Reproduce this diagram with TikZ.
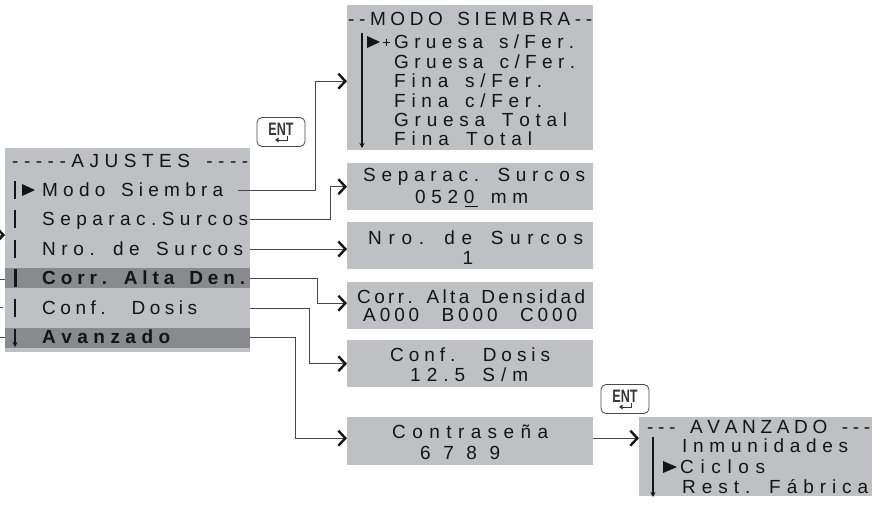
\documentclass[tikz,border=0pt]{standalone}
\usepackage{fontspec}
\usetikzlibrary{calc,arrows.meta,positioning}
\newfontfamily\lcdfont{Liberation Sans}
\newfontfamily\keyfont{Liberation Sans}

% spread the characters of #2 evenly over the width #1 (_ = extra space)
\ExplSyntaxOn
\NewDocumentCommand \spread { m m }
  {
    \hbox_to_wd:nn {#1}
      {
        \bool_set_true:N \l_tmpa_bool
        \str_map_inline:nn {#2}
          {
            \bool_if:NTF \l_tmpa_bool { \bool_set_false:N \l_tmpa_bool } { \hfil }
            \str_if_eq:nnTF {##1} {_} { \skip_horizontal:n { \fontdimen 2 \font } } {##1}
          }
      }
  }
\ExplSyntaxOff

\definecolor{lcdgray}{RGB}{191,192,196}
\definecolor{lcddark}{RGB}{137,138,141}
\definecolor{ink}{RGB}{20,20,20}
\definecolor{wiregray}{RGB}{72,72,72}

\tikzset{
  panel/.style={fill=lcdgray, anchor=north west, inner sep=0pt},
  lcd/.style={font=\lcdfont\fontsize{19}{21}\selectfont, text=ink, inner sep=0pt, text height=13.6pt, text depth=0pt},
  row/.style={lcd, anchor=west},
  bar/.style={draw=ink, line width=1.3pt},
  down/.style={bar, -{Stealth[length=5pt,width=5pt]}},
  wire/.style={draw=wiregray, line width=0.9pt, -{Straight Barb[length=7pt,width=15pt,line width=2.4pt,color=ink]}},
  stub/.style={draw=wiregray, line width=0.9pt},
  enterkey/.style={draw=wiregray, fill=white, rounded corners=5pt, line width=0.8pt, minimum width=48pt, minimum height=29pt, inner sep=0pt},
  keytext/.style={font=\keyfont\bfseries\fontsize{18}{18}\selectfont, text=ink!85, inner sep=0pt}
}

\begin{document}
\begin{tikzpicture}[x=1pt,y=-1pt]
  \useasboundingbox (0,0) rectangle (889,506);

  % panels
  \node[panel, minimum width=245pt, minimum height=204pt] (ajustes) at (5,148) {};
  \fill[lcddark] (5,268) rectangle (250,288);
  \fill[lcddark] (5,328) rectangle (250,348);
  \node[panel, minimum width=246pt, minimum height=145pt] (modo)  at (347,5)   {};
  \node[panel, minimum width=246pt, minimum height=47pt]  (sep)   at (347,163) {};
  \node[panel, minimum width=246pt, minimum height=47pt]  (nro)   at (347,222) {};
  \node[panel, minimum width=246pt, minimum height=47pt]  (corr)  at (347,282) {};
  \node[panel, minimum width=246pt, minimum height=47pt]  (dosis) at (347,340) {};
  \node[panel, minimum width=246pt, minimum height=48pt]  (clave) at (347,417) {};
  \node[panel, minimum width=233pt, minimum height=79pt]  (avz)   at (639,417) {};

  % AJUSTES
  \node[row] (tAjustes) at (12,161) {\spread{236pt}{-----AJUSTES ----}};
  \node[row] (rModo) at (42,190) {\spread{181pt}{Modo Siembra}};
  \node[row] (rSep)  at (42,219) {\spread{206pt}{Separac.Surcos}};
  \node[row] (rNro)  at (42,249) {\spread{201pt}{Nro. de Surcos}};
  \node[row] (rCorr) at (42,278) {\bfseries\spread{203pt}{Corr. Alta Den.}};
  \node[row] (rConf) at (42,308) {\spread{155pt}{Conf._ Dosis}};
  \node[row] (rAvz)  at (42,337) {\bfseries\spread{128pt}{Avanzado}};
  \foreach \y in {190,219,249,308} \draw[bar] (15,\y-9) -- (15,\y+9);
  \draw[bar, line width=3pt] (15,269) -- (15,287);
  \draw[down] (15,329) -- (15,347);
  \fill[ink] (22,184) -- (35,190) -- (22,196) -- cycle;

  % MODO SIEMBRA
  \node[row] (tModo) at (348,19) {\spread{244pt}{--MODO SIEMBRA--}};
  \node[row] (m1) at (394,42)    {\spread{180pt}{Gruesa s/Fer.}};
  \node[row] (m2) at (394,61.4)  {\spread{181pt}{Gruesa c/Fer.}};
  \node[row] (m3) at (394,80.8)  {\spread{148pt}{Fina s/Fer.}};
  \node[row] (m4) at (394,100.2) {\spread{148pt}{Fina c/Fer.}};
  \node[row] (m5) at (394,119.6) {\spread{173pt}{Gruesa Total}};
  \node[row] (m6) at (394,139)   {\spread{138pt}{Fina Total}};
  \draw[bar] (362,33) -- (362,130);
  \draw[down] (362,130) -- (362,148);
  \fill[ink] (367,36) -- (380,42) -- (367,48) -- cycle;
  \draw[ink, line width=1pt] (383,42) -- (390,42) (386.5,38.5) -- (386.5,45.5);

  % value screens
  \node[row] (tSep)   at (363,175) {\spread{222pt}{Separac. Surcos}};
  \node[row] (vSep)   at (415,197) {\spread{113pt}{0520 mm}};
  \draw[ink, line width=1pt] (465,206) -- (478,206);
  \node[row] (tNro)   at (368,238) {\spread{215pt}{Nro. de Surcos}};
  \node[lcd] (vNro)   at (468,258) {1};
  \node[row] (tCorr)  at (357,297) {\spread{228pt}{Corr. Alta Densidad}};
  \node[row] (vCorr)  at (363,315) {\spread{214pt}{A000_ B000_ C000}};
  \node[row] (tDosis) at (390,355) {\spread{160pt}{Conf._ Dosis}};
  \node[row] (vDosis) at (410,375) {\spread{118pt}{12.5 S/m}};
  \node[row] (tClave) at (392,432) {\spread{156pt}{Contraseña}};
  \node[row] (vClave) at (420,453) {\spread{80pt}{6789}};

  % AVANZADO
  \node[row] (tAvz) at (647,427) {\spread{223pt}{--- AVANZADO ---}};
  \node[row] (a1) at (682,446) {\spread{166pt}{Inmunidades}};
  \node[row] (a2) at (680,467) {\spread{85pt}{Ciclos}};
  \node[row] (a3) at (682,487) {\spread{186pt}{Rest. Fábrica}};
  \draw[bar] (653,437) -- (653,478);
  \draw[down] (653,478) -- (653,497);
  \fill[ink] (663,461) -- (677,467) -- (663,473) -- cycle;

  % ENT keys
  \node[enterkey] (entA) at (281,132) {};
  \node[keytext] at ($(entA.center)+(0,-3)$) {\scalebox{0.7}[1]{ENT}};
  \draw[ink!85, line width=1pt, -{Triangle[length=3.5pt,width=4.5pt]}] ($(entA.center)+(6,4)$) -- ++(0,4) -- ++(-12,0);
  \node[enterkey] (entB) at (625,399) {};
  \node[keytext] at ($(entB.center)+(0,-3)$) {\scalebox{0.7}[1]{ENT}};
  \draw[ink!85, line width=1pt, -{Triangle[length=3.5pt,width=4.5pt]}] ($(entB.center)+(6,4)$) -- ++(0,4) -- ++(-12,0);

  % connectors
  \draw[wire] ($(ajustes.east |- rModo.west)+(-12,0)$) -- ++(77,0) |- ([yshift=-3.5pt]modo.west);
  \draw[wire] (ajustes.east |- rSep.west) -- ++(80,0) |- (sep.west);
  \draw[wire] (ajustes.east |- rNro.west) -- (nro.west |- rNro.west);
  \draw[wire] (ajustes.east |- rCorr.west) -- ++(67,0) |- ([yshift=2.5pt]corr.west);
  \draw[wire] (ajustes.east |- rConf.west) -- ++(59,0) |- (dosis.west);
  \draw[wire] (ajustes.east |- rAvz.west) -- ++(45,0) |- ([yshift=3pt]clave.west);
  \coordinate (cOut) at ([yshift=3pt]clave.east);
  \draw[wire] (cOut) -- (cOut -| avz.west);

  % cut-off links on the left edge
  \coordinate (inA) at (0,235);
  \coordinate (inB) at (0,279);
  \coordinate (inC) at (0,307);
  \coordinate (inD) at (0,337);
  \draw[wire] (inA) -- (inA -| ajustes.west);
  \draw[stub] (inB) -- (inB -| ajustes.west);
  \draw[stub] (inC) -- ++(2.5,0);
  \draw[stub] (inD) -- (inD -| ajustes.west);
\end{tikzpicture}
\end{document}
